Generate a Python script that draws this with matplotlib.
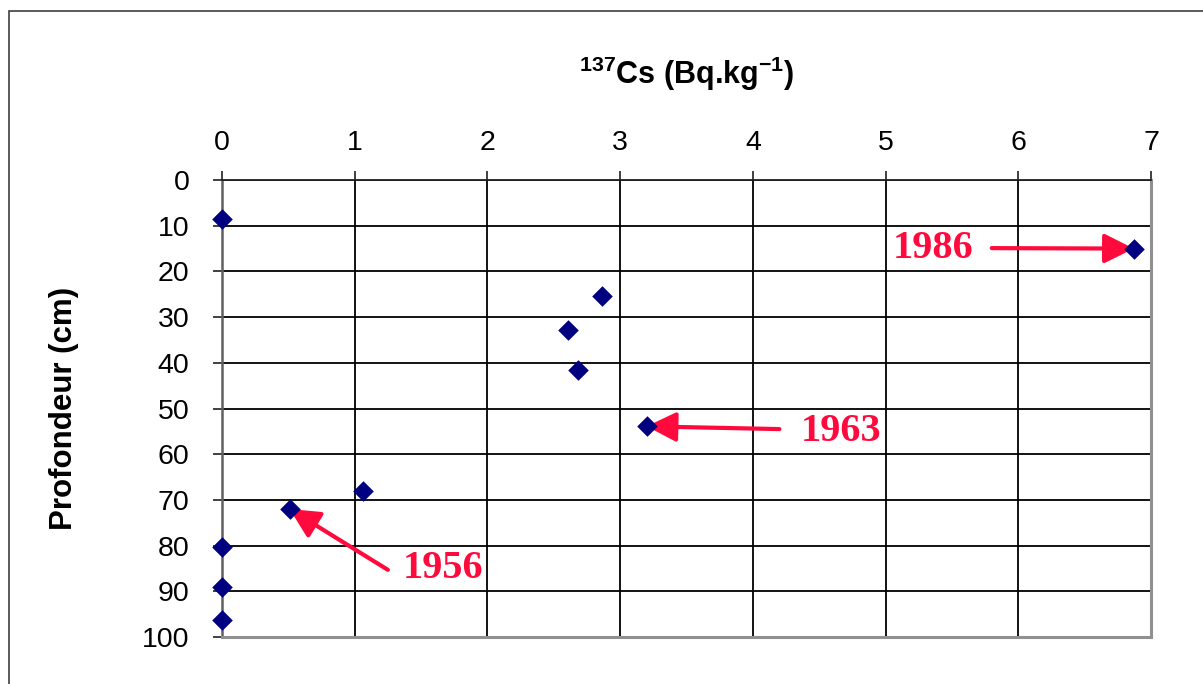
import matplotlib
matplotlib.use('Agg')
import matplotlib.pyplot as plt
from matplotlib.patches import Rectangle

# 137Cs activity (Bq/kg) vs depth (cm)
cs137 = [0.0, 6.87, 2.86, 2.61, 2.68, 3.2, 1.06, 0.51, 0.0, 0.0, 0.0]
depth = [8.5, 15.0, 25.3, 32.8, 41.6, 53.9, 68.0, 72.0, 80.2, 89.0, 96.3]

x_ticks = [0, 1, 2, 3, 4, 5, 6, 7]
y_ticks = [0, 10, 20, 30, 40, 50, 60, 70, 80, 90, 100]

# dated horizons: label, index of the point it marks
years = ['1956', '1963', '1986']
year_idx = [7, 5, 1]

RED = '#ff0a3c'
NAVY = '#000080'

plt.rcParams['font.family'] = ['Liberation Sans', 'DejaVu Sans']
plt.rcParams['mathtext.fontset'] = 'custom'
plt.rcParams['mathtext.bf'] = 'Liberation Sans:bold'
plt.rcParams['mathtext.rm'] = 'Liberation Sans:bold'
plt.rcParams['mathtext.it'] = 'Liberation Sans:bold'

fig = plt.figure(figsize=(12.03, 6.84), dpi=100)
ax = fig.add_axes([0.1845, 0.0687, 0.7723, 0.6681])

# outer frame of the chart area
fig.patches.append(Rectangle((9 / 1203, -0.05), 1.2, 1 - 11 / 684 + 0.05,
                             transform=fig.transFigure, fill=False,
                             edgecolor='#404040', lw=1.2, zorder=0))

ax.scatter(cs137, depth, marker='D', s=110, color=NAVY, zorder=5,
           linewidths=0, clip_on=False)

ax.set_xlim(0, 7)
ax.set_ylim(100, 0)
ax.set_xticks(x_ticks)
ax.set_yticks(y_ticks)
ax.xaxis.tick_top()
ax.xaxis.set_label_position('top')
ax.tick_params(axis='both', labelsize=20.5, length=6.5, width=1.2, color='#202020')
ax.tick_params(axis='x', pad=11)
ax.tick_params(axis='y', pad=17)
ax.grid(True, color='black', lw=1.3)
ax.set_axisbelow(True)

ax.spines['top'].set_color('#202020')
ax.spines['top'].set_linewidth(1.3)
ax.spines['left'].set_color('#606060')
ax.spines['left'].set_linewidth(1.8)
for side in ['right', 'bottom']:
    ax.spines[side].set_color('#909090')
    ax.spines[side].set_linewidth(2.2)

ax.set_xlabel(r'$^{137}$Cs (Bq.kg$^{-1}$)', fontsize=22, fontweight='bold', labelpad=33)
ax.set_ylabel('Profondeur (cm)', fontsize=22.5, fontweight='bold', labelpad=45)

# arrow tails and label placement (data coords), one per year
tails = [(1.25, 85.3), (4.2, 54.5), (5.8, 14.9)]
label_pos = [(1.36, 85.0), (4.36, 55.0), (5.66, 15.0)]
label_ha = ['left', 'left', 'right']

for yr, i, tail, lp, ha in zip(years, year_idx, tails, label_pos, label_ha):
    ax.annotate('', xy=(cs137[i], depth[i]), xytext=tail,
                arrowprops=dict(arrowstyle='-|>,head_length=0.6,head_width=0.3',
                                color=RED, lw=3, mutation_scale=30,
                                shrinkA=0, shrinkB=0),
                zorder=4, annotation_clip=False)
    ax.text(lp[0], lp[1], yr, color=RED, fontsize=29, fontweight='bold',
            family='Liberation Serif', ha=ha, va='center', zorder=6)

fig.savefig('out.png', dpi=100)
